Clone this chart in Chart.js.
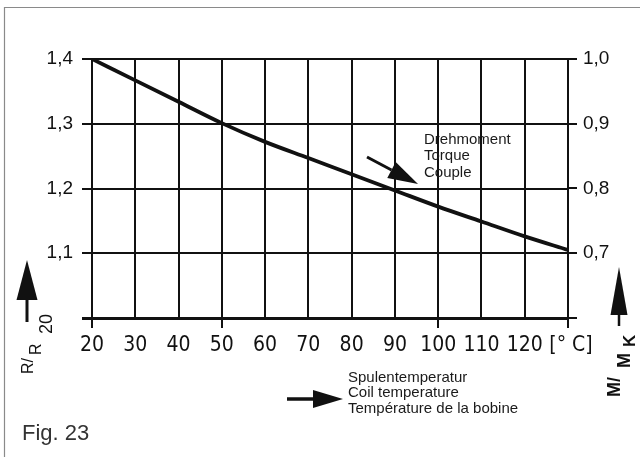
<!DOCTYPE html>
<html>
<head>
<meta charset="utf-8">
<script src="https://cdn.jsdelivr.net/npm/chart.js@4"></script>
<style>
  html,body{margin:0;padding:0;background:#fff}
  #wrap{width:640px;height:457px;position:relative}
</style>
</head>
<body>
<div id="wrap"><canvas id="ch" width="640" height="457"></canvas></div>
<script>
// coil temperature [°C]
const temps = [20,30,40,50,60,70,80,90,100,110,120,130];
// R/R20 (left axis); M/MK reads off the right axis, same curve
const ratio = [1.400,1.367,1.334,1.301,1.272,1.247,1.222,1.197,1.172,1.149,1.126,1.105];
const leftTicks  = [1.0,1.1,1.2,1.3,1.4];
const rightTicks = [0.6,0.7,0.8,0.9,1.0];
const xMarked = [20,50,100,130];   // ticks that stick out below the axis

const INK='#111';
const comma = v => v.toFixed(1).replace('.',',');

// frame, arrows and captions
const decor={
  id:'decor',
  beforeDraw(c){
    const g=c.ctx;
    g.save();
    g.strokeStyle='#8a8a8a'; g.lineWidth=1.2;
    g.beginPath(); g.moveTo(4.5,457); g.lineTo(4.5,7.5); g.lineTo(640,7.5); g.stroke();
    g.restore();
  },
  afterDraw(c){
    const g=c.ctx;
    g.save();
    g.fillStyle=INK; g.strokeStyle=INK;
    const arrow=(x0,y0,x1,y1,headLen,half,w)=>{
      const a=Math.atan2(y1-y0,x1-x0), bx=x1-headLen*Math.cos(a), by=y1-headLen*Math.sin(a);
      g.lineWidth=w; g.beginPath(); g.moveTo(x0,y0); g.lineTo(bx,by); g.stroke();
      g.beginPath(); g.moveTo(x1,y1);
      g.lineTo(bx+half*Math.sin(a),by-half*Math.cos(a));
      g.lineTo(bx-half*Math.sin(a),by+half*Math.cos(a));
      g.closePath(); g.fill();
    };
    arrow(27,322,27,260,40,10.5,3);    // left axis
    arrow(619,326,619,267,48,8.5,2.5); // right axis
    arrow(367,157,418,184,30,9,3);     // torque
    arrow(287,399,343,399,30,9,3.5);   // temperature

    g.textBaseline='alphabetic'; g.textAlign='left';
    g.font='15px "Liberation Sans", Arial, sans-serif';
    g.fillStyle='#1a1a1a';
    g.fillText('Drehmoment',424,144);
    g.fillText('Torque',424,160);
    g.fillText('Couple',424,177);
    g.fillText('Spulentemperatur',348,382);
    g.fillText('Coil temperature',348,397);
    g.fillText('Température de la bobine',348,413);

    g.fillStyle='#333';
    g.font='22px "Liberation Sans", Arial, sans-serif';
    g.fillText('Fig. 23',22,440);

    // rotated axis titles
    const rot=(txt,x,y,font)=>{
      g.save(); g.translate(x,y); g.rotate(-Math.PI/2);
      g.font=font; g.fillText(txt,0,0); g.restore();
    };
    g.fillStyle=INK;
    rot('R/',33,374,'16px "Liberation Sans", Arial, sans-serif');
    rot('R',41,355,'16px "Liberation Sans", Arial, sans-serif');
    rot('20',52,334,'18px "Liberation Sans", Arial, sans-serif');
    rot('M/',620,397,'bold 18px "Liberation Sans", Arial, sans-serif');
    rot('M',630,368,'bold 18px "Liberation Sans", Arial, sans-serif');
    rot('K',635,347,'bold 17px "Liberation Sans", Arial, sans-serif');
    g.restore();
  }
};

new Chart(document.getElementById('ch'),{
  type:'line',
  data:{datasets:[{
    data:temps.map((t,i)=>({x:t,y:ratio[i]})),
    borderColor:INK,borderWidth:3.8,pointRadius:0,
    cubicInterpolationMode:'monotone',fill:false
  }]},
  options:{
    responsive:false,animation:false,
    layout:{padding:{top:59,left:0,right:0,bottom:0}},
    plugins:{legend:{display:false},tooltip:{enabled:false}},
    scales:{
      x:{
        type:'linear',min:20,max:130,
        afterFit:s=>{s.height=139;},
        afterBuildTicks:s=>{s.ticks=temps.map(v=>({value:v}));},
        ticks:{
          color:INK,padding:5,maxRotation:0,autoSkip:false,
          font:{family:'"DejaVu Sans Condensed", "Liberation Sans Narrow", "Liberation Sans", Arial',size:21},
          callback:v=>v===130?' [° C]':String(v)
        },
        grid:{color:INK,lineWidth:2,tickLength:10,
          tickColor:ctx=>xMarked.includes(ctx.tick&&ctx.tick.value)?INK:'rgba(0,0,0,0)'},
        border:{display:true,color:INK,width:3}
      },
      y:{
        position:'left',min:1.0,max:1.4,
        afterFit:s=>{s.width=92;},
        afterBuildTicks:s=>{s.ticks=leftTicks.map(v=>({value:v}));},
        ticks:{
          color:INK,padding:9,
          font:{family:'"Liberation Sans", Arial',size:19},
          callback:v=>Math.abs(v-1.0)<1e-6?'':comma(v)
        },
        grid:{color:INK,lineWidth:ctx=>ctx.tick&&Math.abs(ctx.tick.value-1.0)<1e-6?3:2,tickLength:10},
        border:{display:true,color:INK,width:2}
      },
      y2:{
        position:'right',min:0.6,max:1.0,
        afterFit:s=>{s.width=72;},
        afterBuildTicks:s=>{s.ticks=rightTicks.map(v=>({value:v}));},
        ticks:{
          color:INK,padding:6,
          font:{family:'"Liberation Sans", Arial',size:19},
          callback:v=>Math.abs(v-0.6)<1e-6?'':comma(v)
        },
        grid:{drawOnChartArea:false,color:INK,lineWidth:2,tickLength:9},
        border:{display:true,color:INK,width:2}
      }
    }
  },
  plugins:[decor]
});
</script>
</body>
</html>
